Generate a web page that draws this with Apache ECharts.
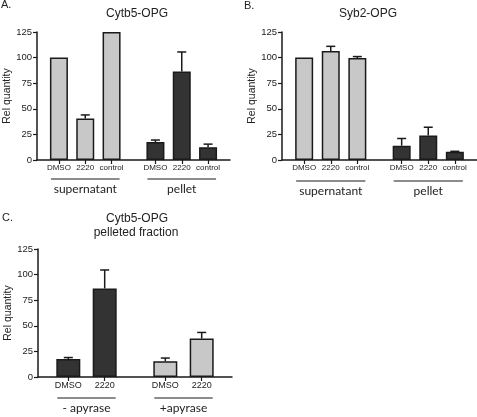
<!DOCTYPE html>
<html>
<head>
<meta charset="utf-8">
<script src="https://cdn.jsdelivr.net/npm/echarts@6/dist/echarts.min.js"></script>
<style>html,body{margin:0;padding:0;background:#fff;}#c{width:477px;height:417px;}</style>
</head>
<body>
<div id="c"></div>
<script>
// ---- data ----
const yTicks = [0, 25, 50, 75, 100, 125];
const catsAB = ['DMSO', '2220', 'control'];
const groupsAB = ['supernatant', 'pellet'];
const aSupernatant = [100, 40.5, 125];
const aSupernatantErr = [0, 3.5, 0];
const aPellet = [17.5, 86.5, 12.5];
const aPelletErr = [2, 19, 3];
const bSupernatant = [100, 106.5, 99.5];
const bSupernatantErr = [0, 4.5, 1.5];
const bPellet = [14, 24, 8];
const bPelletErr = [7, 8, 0.5];
const catsC = ['DMSO', '2220'];
const groupsC = ['- apyrase', '+apyrase'];
const cMinus = [17.5, 86.5];
const cMinusErr = [1.5, 18];
const cPlus = [15.5, 37.5];
const cPlusErr = [3, 6];

const LIGHT = '#c8c8c8', DARK = '#333333', INK = '#1a1a1a';
const FONT = 'Liberation Sans, Arial, sans-serif';

const panels = [
  { grid: {left: 37, top: 32, width: 193, height: 128}, slots: 22, bw: 18, catFont: 8, lineOff: 19, textOff: 29,
    groups: [
      {name: groupsAB[0], cats: catsAB, values: aSupernatant, errs: aSupernatantErr, color: LIGHT},
      {name: groupsAB[1], cats: catsAB, values: aPellet, errs: aPelletErr, color: DARK}]},
  { grid: {left: 282, top: 32, width: 195, height: 128}, slots: 22, bw: 18, catFont: 8, lineOff: 21, textOff: 31,
    groups: [
      {name: groupsAB[0], cats: catsAB, values: bSupernatant, errs: bSupernatantErr, color: LIGHT},
      {name: groupsAB[1], cats: catsAB, values: bPellet, errs: bPelletErr, color: DARK}]},
  { grid: {left: 38, top: 249, width: 194, height: 128}, slots: 16, bw: 24, catFont: 9, lineOff: 21, textOff: 31,
    groups: [
      {name: groupsC[0], cats: catsC, values: cMinus, errs: cMinusErr, color: DARK},
      {name: groupsC[1], cats: catsC, values: cPlus, errs: cPlusErr, color: LIGHT}]}
];

// layout in category slots: 2 lead slots, 3 slots per bar, 5 between groups
function build(p) {
  const cats = new Array(p.slots).fill('');
  const bars = new Array(p.slots).fill('-');
  const errs = [];
  const spans = [];
  let pos = 2;
  p.groups.forEach(g => {
    const first = pos;
    g.cats.forEach((c, i) => {
      cats[pos] = c;
      bars[pos] = {value: g.values[i], itemStyle: {color: g.color}};
      if (g.errs[i] > 0) errs.push([pos, g.values[i], g.values[i] + g.errs[i]]);
      pos += 3;
    });
    spans.push({name: g.name, first: first, last: pos - 3});
    pos += 2;
  });
  return {cats, bars, errs, spans};
}

const built = panels.map(build);

const option = {
  animation: false,
  textStyle: {fontFamily: FONT},
  grid: panels.map(p => Object.assign({containLabel: false}, p.grid)),
  xAxis: panels.map((p, k) => ({
    type: 'category', gridIndex: k, data: built[k].cats,
    axisLine: {show: true, lineStyle: {color: INK, width: 1.5}},
    axisTick: {show: true, alignWithLabel: true, length: 4, lineStyle: {color: INK, width: 1.2},
      interval: (i, v) => v !== ''},
    axisLabel: {interval: 0, fontSize: p.catFont, color: '#222', margin: 4, fontFamily: FONT},
    splitLine: {show: false}
  })),
  yAxis: panels.map((p, k) => ({
    type: 'value', gridIndex: k, min: yTicks[0], max: yTicks[yTicks.length - 1],
    interval: yTicks[1] - yTicks[0],
    name: 'Rel quantity', nameLocation: 'middle', nameGap: 21,
    nameTextStyle: {fontSize: 10.5, color: '#222', fontFamily: FONT},
    axisLine: {show: true, lineStyle: {color: INK, width: 1.5}},
    axisTick: {show: true, length: 4, lineStyle: {color: INK, width: 1.2}},
    axisLabel: {fontSize: 9.5, color: '#222', margin: 5, fontFamily: FONT},
    splitLine: {show: false}
  })),
  series: []
};

panels.forEach((p, k) => {
  option.series.push({
    type: 'bar', xAxisIndex: k, yAxisIndex: k, data: built[k].bars,
    barWidth: p.bw, itemStyle: {borderColor: INK, borderWidth: 1.5}, z: 2
  });
  option.series.push({
    type: 'custom', xAxisIndex: k, yAxisIndex: k, data: built[k].errs, z: 3,
    encode: {x: 0, y: [1, 2]},
    renderItem: (params, api) => {
      const lo = api.coord([api.value(0), api.value(1)]);
      const hi = api.coord([api.value(0), api.value(2)]);
      const cap = 4.5;
      const st = {stroke: INK, lineWidth: 1.5};
      return {type: 'group', children: [
        {type: 'line', shape: {x1: lo[0], y1: lo[1], x2: hi[0], y2: hi[1]}, style: st},
        {type: 'line', shape: {x1: hi[0] - cap, y1: hi[1], x2: hi[0] + cap, y2: hi[1]}, style: st}
      ]};
    }
  });
});

const chart = echarts.init(document.getElementById('c'), null, {renderer: 'canvas'});
chart.setOption(option);

const titleStyle = (text, x, y, size, align) => ({
  type: 'text', x: x, y: y,
  style: {text: text, fontSize: size, fill: '#222', fontFamily: FONT, align: align || 'center', verticalAlign: 'middle'}
});
const graphics = [
  titleStyle('A.', 1, 5, 11, 'left'),
  titleStyle('Cytb5-OPG', 137, 14, 12),
  titleStyle('B.', 244, 6, 11, 'left'),
  titleStyle('Syb2-OPG', 368, 14, 12),
  titleStyle('C.', 2, 218, 11, 'left'),
  titleStyle('Cytb5-OPG', 137, 219, 12),
  titleStyle('pelleted fraction', 136, 233, 12)
];
panels.forEach((p, k) => {
  const y0 = chart.convertToPixel({yAxisIndex: k}, 0);
  built[k].spans.forEach(s => {
    const x1 = chart.convertToPixel({xAxisIndex: k}, s.first) - p.bw / 2 + 1;
    const x2 = chart.convertToPixel({xAxisIndex: k}, s.last) + p.bw / 2 - 1;
    graphics.push({type: 'line', shape: {x1: x1, y1: y0 + p.lineOff, x2: x2, y2: y0 + p.lineOff},
      style: {stroke: INK, lineWidth: 1.2}});
    graphics.push({type: 'text', x: (x1 + x2) / 2, y: y0 + p.textOff,
      style: {text: s.name, fontSize: 12, fill: '#222', fontFamily: 'Lato, ' + FONT, align: 'center', verticalAlign: 'middle'}});
  });
});
chart.setOption({graphic: graphics});
</script>
</body>
</html>
